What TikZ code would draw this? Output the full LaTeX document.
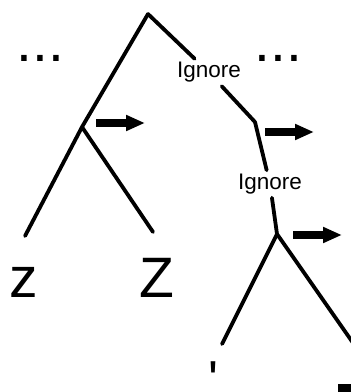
\documentclass[tikz,border=0pt]{standalone}
\usepackage{fontspec}
\setmainfont{Liberation Sans}
\usetikzlibrary{arrows.meta}

\begin{document}
\begin{tikzpicture}[
    x=1pt, y=-1pt, % Flip the y-axis so (0,0) is at top left
    branch/.style={line width=3.8pt, line cap=round},
    skip/.style={inner xsep=2pt, inner ysep=3.5pt, font=\fontsize{22.5}{27}\selectfont},
    leaf/.style={anchor=base, inner sep=0pt, font=\fontsize{57}{68}\selectfont},
    push/.style={-{Triangle[length=19pt,width=15pt]}, line width=7.5pt}
]
\useasboundingbox (0,0) rectangle (351,392);
\clip (0,0) rectangle (351,392);
% tree points
\coordinate (root) at (148,14);
\coordinate (lnode) at (82,127);
\coordinate (lleaf) at (25,236);
\coordinate (lright) at (153,232);
\coordinate (rnode) at (255,122);
\coordinate (r2node) at (277,234);
\coordinate (r2left) at (222,344);
\coordinate (r2right) at (358,350);
\node[skip] (ign1) at (209,72.5) {Ignore};
\node[skip] (ign2) at (270,184) {Ignore};
% branches
\draw[branch] (root) -- (lnode) -- (lleaf);
\draw[branch] (lnode) -- (lright);
\draw[branch] (root) -- (ign1) -- (rnode);
\draw[branch] (rnode) -- (ign2) -- (r2node);
\draw[branch] (r2node) -- (r2left);
\draw[branch] (r2node) -- (r2right);
% arrows next to the nodes
\foreach \n/\dx/\dy in {lnode/14/-4, rnode/10/10, r2node/16/1}
    \draw[push] ([shift={(\dx,\dy)}]\n) -- ++(49,0);
% texts
\node[leaf] (ldots) at (40.5,61) {...};
\node[leaf] (rdots) at (278.5,61) {...};
\node[leaf] (small) at (23.5,297) {z};
\node[leaf] (big) at (156.5,297) {Z};
\node[inner sep=0pt, anchor=north, font=\fontsize{52}{62}\selectfont] (tick)
    at (213.5,362) {\textquotesingle};
\fill (338,384) rectangle (352,393);
\end{tikzpicture}
\end{document}
